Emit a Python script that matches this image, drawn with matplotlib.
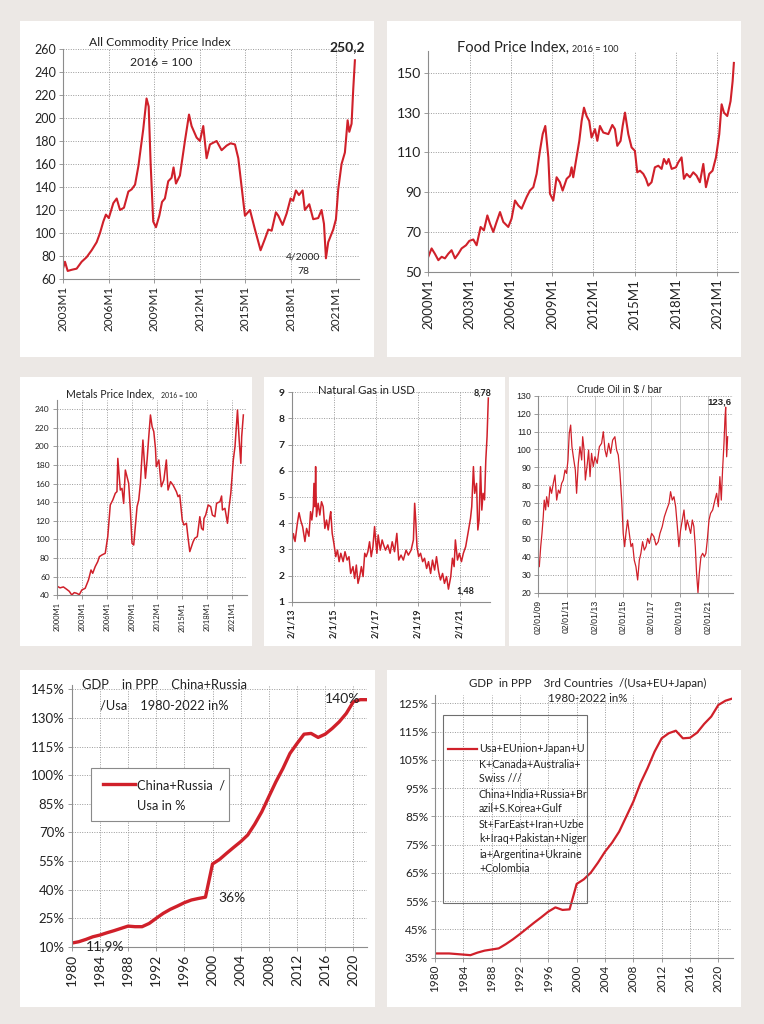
import matplotlib
matplotlib.use("Agg")
import matplotlib.pyplot as plt
from matplotlib.patches import Rectangle
from matplotlib.lines import Line2D

W, H = 764, 1024
BG = "#ece8e5"
RED = "#d0202a"
GRID = "#9a9a9a"
AXC = "#8c8c8c"
TXT = "#222222"
NARROW = ["Lato", "DejaVu Sans"]
ARIAL = ["Liberation Sans", "DejaVu Sans"]

# ---- data ----
# All Commodity Price Index, 2016 = 100
comm_t = [2003.00, 2003.11, 2003.29, 2003.55, 2003.88, 2004.21, 2004.54, 2004.87, 2005.20, 2005.42,
          2005.64, 2005.81, 2006.00, 2006.30, 2006.52, 2006.74, 2007.00, 2007.29, 2007.51, 2007.73,
          2007.95, 2008.27, 2008.49, 2008.63, 2008.76, 2008.93, 2009.11, 2009.33, 2009.51, 2009.70,
          2009.92, 2010.14, 2010.27, 2010.43, 2010.69, 2011.02, 2011.29, 2011.46, 2011.79, 2012.01,
          2012.23, 2012.45, 2012.67, 2013.11, 2013.44, 2013.77, 2014.03, 2014.32, 2014.54, 2014.76,
          2014.98, 2015.31, 2015.64, 2016.01, 2016.30, 2016.52, 2016.74, 2017.02, 2017.18, 2017.46,
          2017.73, 2017.99, 2018.16, 2018.34, 2018.54, 2018.78, 2018.93, 2019.22, 2019.48, 2019.81,
          2020.03, 2020.19, 2020.32, 2020.47, 2020.80, 2020.98, 2021.13, 2021.35, 2021.57, 2021.75,
          2021.86, 2022.01, 2022.12, 2022.23]
comm_v = [70, 75, 67, 68, 69, 75, 79, 85, 92, 100,
          110, 116, 113, 126, 130, 120, 122, 136, 138, 142,
          158, 190, 217, 210, 160, 110, 105, 115, 127, 130,
          145, 148, 157, 143, 150, 180, 203, 193, 183, 180,
          193, 165, 177, 180, 172, 176, 178, 177, 165, 140,
          115, 120, 103, 85, 95, 103, 102, 118, 115, 107,
          117, 130, 128, 137, 133, 137, 120, 125, 112, 113,
          120, 108, 78, 92, 103, 112, 138, 160, 170, 198,
          188, 195, 225, 250.2]

# Food Price Index, 2016 = 100
food_t = [2000.00, 2000.24, 2000.48, 2000.73, 2000.97, 2001.21, 2001.45, 2001.69, 2001.94, 2002.18,
          2002.42, 2002.74, 2002.98, 2003.27, 2003.51, 2003.80, 2004.04, 2004.29, 2004.48, 2004.72,
          2004.96, 2005.21, 2005.45, 2005.81, 2006.05, 2006.30, 2006.54, 2006.78, 2007.14, 2007.38,
          2007.63, 2007.87, 2008.11, 2008.31, 2008.50, 2008.72, 2008.84, 2009.08, 2009.32, 2009.56,
          2009.76, 2010.05, 2010.29, 2010.41, 2010.53, 2010.77, 2010.97, 2011.14, 2011.31, 2011.50,
          2011.69, 2011.86, 2012.11, 2012.28, 2012.47, 2012.71, 2013.08, 2013.37, 2013.56, 2013.73,
          2013.97, 2014.12, 2014.29, 2014.53, 2014.77, 2015.01, 2015.18, 2015.38, 2015.62, 2015.81,
          2015.98, 2016.22, 2016.46, 2016.71, 2016.95, 2017.12, 2017.31, 2017.46, 2017.68, 2017.99,
          2018.16, 2018.40, 2018.57, 2018.77, 2019.01, 2019.25, 2019.49, 2019.73, 2019.98, 2020.17,
          2020.41, 2020.65, 2020.90, 2021.14, 2021.31, 2021.48, 2021.72, 2021.96, 2022.11, 2022.20]
food_v = [57.5, 61.7, 59, 55.8, 57.5, 56.7, 59, 60.8, 56.7, 59,
          61.7, 63.3, 65.5, 66.2, 63.3, 72.5, 70.8, 78.3, 74.2, 70,
          75, 80, 75, 72.5, 76.7, 85.8, 83.3, 81.7, 87.5, 90.8,
          92.5, 99.2, 110.8, 119.2, 123.3, 107.5, 89.2, 85.8, 97.5, 95,
          90.8, 96.7, 98.3, 102.5, 97.5, 107.5, 115.8, 125.8, 132.5, 128.3,
          125.8, 117.5, 121.7, 115.8, 123.3, 120, 119.2, 123.8, 121.7, 113.3,
          115.8, 123.3, 130, 119.2, 112.5, 110.8, 100, 100.8, 99.2, 96.7,
          93.3, 95, 102.5, 103.3, 101.7, 106.7, 104.2, 106.7, 101.7, 102.5,
          105, 107.5, 96.7, 99.2, 97.5, 100, 98.3, 95, 104.2, 92.5,
          99.2, 100.8, 107.5, 119.2, 134.2, 130, 128.3, 135.8, 145.8, 155]

# Metals Price Index, 2016 = 100
metal_t = [2000.0, 2000.4, 2000.8, 2001.2, 2001.5, 2001.8, 2002.1, 2002.4, 2002.7, 2003.0,
           2003.4, 2003.8, 2004.1, 2004.3, 2004.6, 2004.9, 2005.1, 2005.4, 2005.8, 2006.1,
           2006.4, 2006.7, 2007.0, 2007.2, 2007.3, 2007.6, 2007.8, 2008.0, 2008.2, 2008.6,
           2008.8, 2009.0, 2009.2, 2009.6, 2009.8, 2010.0, 2010.3, 2010.6, 2010.8, 2011.0,
           2011.2, 2011.4, 2011.6, 2011.8, 2011.9, 2012.2, 2012.5, 2012.8, 2013.1, 2013.3,
           2013.6, 2013.9, 2014.3, 2014.5, 2014.7, 2015.0, 2015.2, 2015.5, 2015.7, 2015.9,
           2016.3, 2016.5, 2016.8, 2017.1, 2017.3, 2017.5, 2017.6, 2017.8, 2018.1, 2018.4,
           2018.6, 2018.9, 2019.1, 2019.5, 2019.7, 2019.8, 2020.1, 2020.4, 2020.6, 2020.8,
           2021.1, 2021.3, 2021.6, 2021.8, 2022.0, 2022.1, 2022.3]
metal_v = [50, 48, 49, 46.4, 44.3, 40.4, 42.9, 42.1, 40.7, 45.7,
           47.5, 56.5, 67.2, 63.6, 70.8, 76.1, 81.5, 83.3, 85.1, 103,
           137, 142.3, 149.5, 151.3, 187, 153, 154.8, 138.7, 174.5, 160.2,
           131.6, 95.8, 94, 135.2, 142.3, 160.2, 206.7, 165.6, 185.3, 210.3,
           233.6, 221, 215.7, 197.8, 178.1, 185.3, 156.6, 163.8, 185.3, 153,
           162, 158.4, 151.3, 145.9, 147.7, 120.9, 115.5, 117.3, 101.2, 86.9,
           97.6, 101.2, 103, 124.4, 111.9, 110.1, 122.6, 126.2, 137, 135.2,
           126.2, 124.4, 138.7, 140.5, 146.6, 131.6, 133.4, 117.3, 135.2, 149.5,
           185.3, 199.6, 238.9, 206.7, 181.7, 210.3, 233.6]

# Natural Gas in USD
gas_t = [2013.00, 2013.08, 2013.16, 2013.27, 2013.35, 2013.43, 2013.52, 2013.63, 2013.71, 2013.82,
         2013.90, 2013.96, 2014.03, 2014.06, 2014.11, 2014.14, 2014.18, 2014.26, 2014.34, 2014.42,
         2014.50, 2014.58, 2014.66, 2014.74, 2014.82, 2014.86, 2014.93, 2015.01, 2015.10, 2015.18,
         2015.26, 2015.34, 2015.45, 2015.54, 2015.64, 2015.73, 2015.81, 2015.92, 2016.00, 2016.08,
         2016.16, 2016.24, 2016.32, 2016.40, 2016.48, 2016.55, 2016.63, 2016.71, 2016.79, 2016.87,
         2016.95, 2017.00, 2017.06, 2017.12, 2017.22, 2017.31, 2017.38, 2017.47, 2017.58, 2017.69,
         2017.79, 2017.90, 2018.01, 2018.10, 2018.21, 2018.32, 2018.45, 2018.56, 2018.69, 2018.80,
         2018.86, 2018.91, 2018.97, 2019.05, 2019.14, 2019.24, 2019.33, 2019.43, 2019.52, 2019.62,
         2019.71, 2019.81, 2019.90, 2020.00, 2020.09, 2020.19, 2020.28, 2020.38, 2020.47, 2020.58,
         2020.66, 2020.74, 2020.80, 2020.90, 2020.99, 2021.09, 2021.18, 2021.29, 2021.40, 2021.52,
         2021.58, 2021.66, 2021.72, 2021.81, 2021.87, 2021.93, 2022.00, 2022.06, 2022.12, 2022.19,
         2022.25, 2022.31, 2022.37]
gas_v = [3.17, 3.6, 3.3, 4.0, 4.4, 4.1, 3.87, 3.3, 3.8, 3.5,
         4.44, 4.12, 4.63, 5.52, 4.63, 6.16, 4.25, 4.76, 4.31, 4.82,
         4.63, 3.8, 4.12, 3.74, 4.25, 4.44, 3.61, 3.23, 2.72, 2.97,
         2.53, 2.85, 2.53, 2.91, 2.59, 2.72, 2.08, 2.34, 1.89, 2.4,
         1.7, 1.96, 2.34, 1.96, 2.85, 2.72, 2.91, 3.29, 2.72, 3.1,
         3.87, 3.36, 2.85, 3.55, 2.97, 3.36, 3.17, 2.97, 3.17, 2.85,
         3.29, 2.91, 3.61, 2.59, 2.78, 2.59, 2.97, 2.78, 2.97, 3.36,
         4.76, 4.12, 3.1, 2.72, 2.85, 2.53, 2.66, 2.27, 2.53, 2.08,
         2.59, 2.21, 2.72, 2.15, 1.83, 2.08, 1.7, 1.96, 1.48, 1.96,
         2.66, 2.34, 3.36, 2.59, 2.85, 2.53, 2.85, 3.1, 3.61, 4.18,
         4.63, 6.16, 5.14, 5.52, 3.74, 4.12, 6.16, 4.5, 5.14, 4.89,
         6.41, 7.31, 8.78]

# Crude Oil in $ / bar
oil_t = [2009.00, 2009.07, 2009.17, 2009.26, 2009.35, 2009.42, 2009.52, 2009.59, 2009.71, 2009.83,
         2009.94, 2010.06, 2010.18, 2010.30, 2010.42, 2010.53, 2010.65, 2010.77, 2010.89, 2011.00,
         2011.10, 2011.19, 2011.29, 2011.38, 2011.48, 2011.62, 2011.71, 2011.83, 2011.95, 2012.07,
         2012.14, 2012.24, 2012.33, 2012.47, 2012.56, 2012.66, 2012.77, 2012.89, 2013.01, 2013.17,
         2013.32, 2013.48, 2013.60, 2013.72, 2013.83, 2013.98, 2014.12, 2014.26, 2014.42, 2014.54,
         2014.66, 2014.78, 2014.90, 2015.01, 2015.11, 2015.20, 2015.32, 2015.44, 2015.56, 2015.67,
         2015.79, 2015.91, 2016.03, 2016.15, 2016.26, 2016.38, 2016.50, 2016.62, 2016.74, 2016.86,
         2017.02, 2017.18, 2017.33, 2017.49, 2017.61, 2017.77, 2017.92, 2018.08, 2018.25, 2018.36,
         2018.48, 2018.60, 2018.72, 2018.84, 2018.95, 2019.07, 2019.19, 2019.31, 2019.43, 2019.54,
         2019.66, 2019.78, 2019.90, 2020.01, 2020.11, 2020.20, 2020.30, 2020.39, 2020.51, 2020.63,
         2020.75, 2020.86, 2020.96, 2021.08, 2021.19, 2021.34, 2021.50, 2021.62, 2021.74, 2021.85,
         2021.95, 2022.04, 2022.14, 2022.21, 2022.26, 2022.33, 2022.40]
oil_v = [38.2, 34.5, 45.7, 53.1, 62.4, 71.7, 66.2, 73.6, 68.0, 79.2,
         75.5, 81, 85.7, 71.7, 77.3, 75.5, 81, 82.9, 88.5, 86.6,
         94.1, 109, 113.6, 101.5, 95.9, 88.5, 75.5, 92.2, 101.5, 94.1,
         107.1, 99.7, 82.9, 92.2, 99.7, 84.8, 97.8, 90.4, 95.9, 92.2,
         101.5, 103.4, 109.9, 99.7, 95.9, 103.4, 97.8, 105.2, 107.1, 99.7,
         96.9, 86.6, 71.7, 53.1, 45.7, 53.1, 60.6, 53.1, 45.7, 47.5,
         38.2, 34.5, 27.1, 38.2, 42, 48.5, 43.8, 45.7, 50.3, 47.5,
         53.1, 51.3, 46.6, 48.5, 53.1, 56.9, 62.4, 66.2, 69.9, 76.4,
         71.7, 73.6, 68, 56.9, 45.7, 55, 60.6, 66.2, 55, 60.6,
         56.9, 53.1, 60.6, 56.9, 45.7, 30.8, 20, 30.8, 40.1, 42,
         40.1, 42, 49.4, 60.6, 64.3, 66.2, 71.7, 75.5, 68, 84.8,
         71.7, 88.5, 103.4, 117.3, 123.6, 95.9, 107.1]

# GDP in PPP, yearly 1980-2022, in %
years = list(range(1980, 2023))
china_russia_usa = [11.9, 12.6, 13.8, 15.2, 16.1, 17.3, 18.4, 19.6, 20.8, 20.5,
                    20.5, 22.2, 24.9, 27.5, 29.6, 31.3, 33.1, 34.5, 35.3, 36.0,
                    53.4, 55.8, 59.0, 62.1, 65.1, 68.6, 74.3, 80.8, 88.7, 96.5,
                    103.5, 111.4, 116.6, 121.5, 121.9, 119.8, 121.5, 124.5, 128.0, 132.4,
                    138.5, 139.6, 139.6]
third_vs_west = [36.5, 36.5, 36.5, 36.3, 36.1, 35.9, 36.8, 37.5, 37.9, 38.3,
                 39.8, 41.5, 43.4, 45.4, 47.4, 49.3, 51.3, 52.8, 51.9, 52.1,
                 61.1, 62.7, 65.1, 68.6, 72.5, 75.7, 79.6, 84.9, 90.2, 96.7,
                 102.0, 107.9, 112.6, 114.4, 115.3, 112.6, 112.8, 114.6, 117.7, 120.3,
                 124.4, 125.9, 126.7]
legend7_lines = ["Usa+EUnion+Japan+U", "K+Canada+Australia+", "Swiss ///",
                 "China+India+Russia+Br", "azil+S.Korea+Gulf", "St+FarEast+Iran+Uzbe",
                 "k+Iraq+Pakistan+Niger", "ia+Argentina+Ukraine", "+Colombia"]


def box(x0, y0, x1, y1):
    return [x0 / W, 1 - y1 / H, (x1 - x0) / W, (y1 - y0) / H]


def ftext(x, y, s, **kw):
    kw.setdefault("color", TXT)
    kw.setdefault("va", "center")
    fig.text(x / W, 1 - y / H, s, **kw)


def panel(x0, y0, x1, y1):
    fig.add_artist(Rectangle((x0 / W, 1 - y1 / H), (x1 - x0) / W, (y1 - y0) / H,
                             transform=fig.transFigure, facecolor="white",
                             edgecolor="none", zorder=0))


def style(ax, fam, ysize, xsize, vgrid_solid=False, weight="normal"):
    ax.set_facecolor("none")
    for s in ("top", "right"):
        ax.spines[s].set_visible(False)
    for s in ("left", "bottom"):
        ax.spines[s].set_color(AXC)
        ax.spines[s].set_linewidth(0.8)
    ax.grid(True, axis="y", linestyle=(0, (1, 1.5)), color=GRID, linewidth=0.7)
    if vgrid_solid:
        ax.grid(True, axis="x", linestyle="-", color="#c8c8c8", linewidth=0.7)
    else:
        ax.grid(True, axis="x", linestyle=(0, (1, 1.5)), color=GRID, linewidth=0.7)
    ax.set_axisbelow(True)
    ax.tick_params(axis="both", direction="out", length=3, width=0.6, color=AXC, pad=2)
    ax.tick_params(axis="x", labelrotation=90)
    for lb in ax.get_yticklabels() + ax.get_xticklabels():
        lb.set_family(fam); lb.set_color(TXT); lb.set_fontweight(weight)
    for lb in ax.get_yticklabels():
        lb.set_fontsize(ysize)
    for lb in ax.get_xticklabels():
        lb.set_fontsize(xsize)


fig = plt.figure(figsize=(W / 100, H / 100), dpi=100, facecolor=BG)

for p in [(20, 21, 374, 357), (387, 21, 741, 357),
          (20, 377, 252, 646), (264, 377, 505, 646), (509, 377, 741, 646),
          (20, 670, 375, 1007), (387, 670, 741, 1007)]:
    panel(*p)

# ---- 1: All Commodity Price Index ----
ax = fig.add_axes(box(63.3, 49, 359, 279))
ax.plot(comm_t, comm_v, color=RED, lw=1.5)
ax.set_xlim(2003, 2022.5); ax.set_ylim(60, 260)
ax.set_yticks(range(60, 261, 20))
ax.set_xticks(range(2003, 2022, 3), [f"{y}M1" for y in range(2003, 2022, 3)])
style(ax, NARROW, 9, 8.5)
ftext(160, 43, "All Commodity Price Index", ha="center", family=NARROW, fontsize=8.7)
ftext(161, 62, "2016 = 100", ha="center", family=NARROW, fontsize=8.7)
ftext(347, 47, "250,2", ha="center", family=NARROW, fontsize=10, fontweight="bold")
ftext(303, 257, "4/2000", ha="center", family=NARROW, fontsize=7.5)
ftext(303, 271, "78", ha="center", family=NARROW, fontsize=7.5)

# ---- 2: Food Price Index ----
ax = fig.add_axes(box(428.3, 51, 738, 271.7))
ax.plot(food_t, food_v, color=RED, lw=1.5)
ax.set_xlim(2000, 2022.5); ax.set_ylim(50, 161)
ax.set_yticks(range(50, 151, 20))
ax.set_xticks(range(2000, 2022, 3), [f"{y}M1" for y in range(2000, 2022, 3)])
style(ax, NARROW, 10, 9.5)
ftext(457, 48, "Food Price Index,", ha="left", family=NARROW, fontsize=10.5)
ftext(572, 49, "2016 = 100", ha="left", family=NARROW, fontsize=6.5)

# ---- 3: Metals Price Index ----
ax = fig.add_axes(box(56.7, 399.7, 246.7, 595.3))
ax.plot(metal_t, metal_v, color=RED, lw=1.1)
ax.set_xlim(2000, 2022.7); ax.set_ylim(40, 250)
ax.set_yticks(range(40, 241, 20))
ax.set_xticks(range(2000, 2022, 3), [f"{y}M1" for y in range(2000, 2022, 3)])
style(ax, NARROW, 6, 5.5)
ftext(66, 394, "Metals Price Index,", ha="left", family=NARROW, fontsize=7.6)
ftext(161, 395, "2016 = 100", ha="left", family=NARROW, fontsize=5)

# ---- 4: Natural Gas ----
ax = fig.add_axes(box(291.7, 392.3, 490, 601.7))
ax.plot(gas_t, gas_v, color=RED, lw=1.1)
ax.set_xlim(2013, 2022.45); ax.set_ylim(1, 9)
ax.set_yticks(range(1, 10))
ax.set_xticks(range(2013, 2022, 2), [f"2/1/{y % 100}" for y in range(2013, 2022, 2)])
style(ax, NARROW, 7.5, 6.5, weight="bold")
ftext(366, 390, "Natural Gas in USD", ha="center", family=NARROW, fontsize=8.2)
ftext(483, 393, "8,78", ha="center", family=NARROW, fontsize=6.5, fontweight="bold")
ftext(465, 591, "1,48", ha="center", family=NARROW, fontsize=6.5, fontweight="bold")

# ---- 5: Crude Oil ----
ax = fig.add_axes(box(538.3, 395.7, 732.6, 592.7))
ax.plot(oil_t, oil_v, color=RED, lw=0.9)
ax.set_xlim(2009, 2022.75); ax.set_ylim(20, 130)
ax.set_yticks(range(20, 131, 10))
ax.set_xticks(range(2009, 2022, 2), [f"02/01/{y % 100:02d}" for y in range(2009, 2022, 2)])
style(ax, ARIAL, 6.3, 6.3, vgrid_solid=True)
ftext(620, 390, "Crude Oil in $ / bar", ha="center", family=ARIAL, fontsize=7.3)
ftext(719, 402, "123,6", ha="center", family=ARIAL, fontsize=6.8, fontweight="bold")

# ---- 6: GDP China+Russia / Usa ----
ax = fig.add_axes(box(71.7, 685, 366.7, 946.7))
ax.plot(years, china_russia_usa, color=RED, lw=2.4)
ax.set_xlim(1980, 2021.9); ax.set_ylim(10, 147.3)
ax.set_yticks(range(10, 146, 15), [f"{v}%" for v in range(10, 146, 15)])
ax.set_xticks(range(1980, 2021, 4))
style(ax, NARROW, 9.5, 10)
ftext(82, 685, "GDP    in PPP    China+Russia", ha="left", family=NARROW, fontsize=9.3)
ftext(100, 706, "/Usa    1980-2022 in%", ha="left", family=NARROW, fontsize=9.3)
ftext(325, 699, "140%", ha="left", family=NARROW, fontsize=10)
ftext(218, 898, "36%", ha="left", family=NARROW, fontsize=10)
ftext(86, 946, "11,9%", ha="left", family=NARROW, fontsize=10)
fig.add_artist(Rectangle((91 / W, 1 - 821 / H), (229 - 91) / W, (821 - 768) / H,
                         transform=fig.transFigure, facecolor="white",
                         edgecolor="#8a8a8a", lw=0.8, zorder=3))
fig.add_artist(Line2D([103 / W, 135 / W], [1 - 784 / H, 1 - 784 / H],
                      transform=fig.transFigure, color=RED, lw=2.4, zorder=4))
ftext(137, 785, "China+Russia  /", ha="left", family=NARROW, fontsize=9.3, zorder=4)
ftext(137, 806, "Usa in %", ha="left", family=NARROW, fontsize=9.3, zorder=4)

# ---- 7: GDP 3rd countries / (Usa+EU+Japan) ----
ax = fig.add_axes(box(435, 694.8, 732.5, 957.7))
ax.plot(years, third_vs_west, color=RED, lw=1.6)
ax.set_xlim(1980, 2022); ax.set_ylim(35, 128)
ax.set_yticks(range(35, 126, 10), [f"{v}%" for v in range(35, 126, 10)])
ax.set_xticks(range(1980, 2021, 4))
style(ax, NARROW, 8.5, 8.5)
ftext(469, 683, "GDP  in PPP    3rd Countries  /(Usa+EU+Japan)", ha="left",
      family=NARROW, fontsize=8.3)
ftext(548, 699, "1980-2022 in%", ha="left", family=NARROW, fontsize=8.3)
fig.add_artist(Rectangle((443 / W, 1 - 903 / H), (587 - 443) / W, (903 - 715) / H,
                         transform=fig.transFigure, facecolor="none",
                         edgecolor="#6e6e6e", lw=0.8, zorder=3))
fig.add_artist(Line2D([448 / W, 477 / W], [1 - 749 / H, 1 - 749 / H],
                      transform=fig.transFigure, color=RED, lw=1.6, zorder=4))
for i, line in enumerate(legend7_lines):
    ftext(479, 749 + i * 15, line, ha="left", family=NARROW, fontsize=7.7, zorder=4)

fig.savefig("out.png", dpi=100, facecolor=BG)
